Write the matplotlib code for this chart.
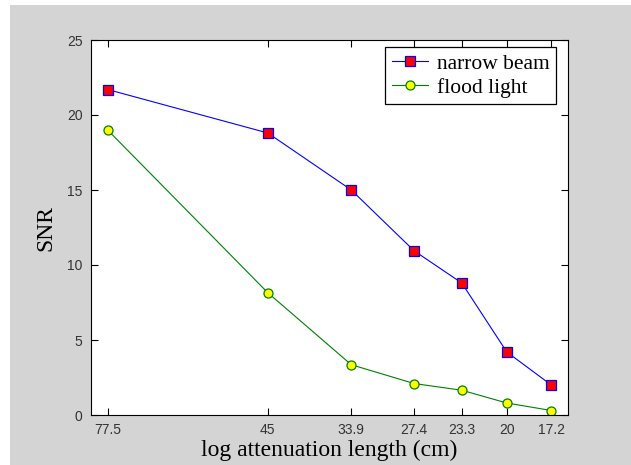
import matplotlib
matplotlib.use("Agg")
import matplotlib.pyplot as plt
from matplotlib.patches import Rectangle

# attenuation length (cm) and SNR
atten_len = [77.5, 45, 33.9, 27.4, 23.3, 20, 17.2]
tick_labels = ["77.5", "45", "33.9", "27.4", "23.3", "20", "17.2"]
snr_narrow = [21.7, 18.8, 15.0, 10.95, 8.8, 4.2, 2.0]
snr_flood = [19.0, 8.15, 3.35, 2.1, 1.65, 0.8, 0.3]

fig = plt.figure(figsize=(6.31, 4.65), dpi=100, facecolor="white")
# grey matlab-style figure background (leaves a white strip on top/left)
fig.patches.append(Rectangle((10 / 631, 0), 1, 1 - 5 / 465, transform=fig.transFigure,
                             facecolor="#d4d4d4", edgecolor="none", zorder=-10))

ax = fig.add_axes([91 / 631, (465 - 415) / 465, (568 - 91) / 631, (415 - 40) / 465])
ax.set_facecolor("white")

ax.plot(atten_len, snr_narrow, color="blue", lw=0.8, marker="s", markersize=6.5,
        markerfacecolor="red", markeredgecolor="blue", markeredgewidth=0.9,
        label="narrow beam")
ax.plot(atten_len, snr_flood, color="green", lw=0.8, marker="o", markersize=6.5,
        markerfacecolor="yellow", markeredgecolor="green", markeredgewidth=0.9,
        label="flood light")

ax.set_xscale("log")
ax.set_xlim(82, 16.25)
ax.set_ylim(0, 25)
ax.set_xticks(atten_len)
ax.set_xticklabels(tick_labels)
ax.minorticks_off()
ax.set_yticks([0, 5, 10, 15, 20, 25])

ax.tick_params(direction="in", top=True, right=True, length=5, width=0.8,
               labelsize=10, labelcolor="#333333", pad=6)
for lbl in ax.get_xticklabels() + ax.get_yticklabels():
    lbl.set_family("Liberation Sans")
for s in ax.spines.values():
    s.set_linewidth(0.8)

ax.set_xlabel("log attenuation length (cm)", family="Liberation Serif", fontsize=17, labelpad=2)
ax.set_ylabel("SNR", family="Liberation Serif", fontsize=17, labelpad=8)

leg = ax.legend(loc="upper right", prop={"family": "Liberation Serif", "size": 15.5},
                bbox_to_anchor=(556 / 631, (465 - 47) / 465), bbox_transform=fig.transFigure,
                fancybox=False, framealpha=1, edgecolor="black", borderaxespad=0,
                handlelength=1.7, borderpad=0.3, labelspacing=0.2, handletextpad=0.4)
leg.get_frame().set_linewidth(0.9)

fig.savefig("out.png", dpi=100, facecolor=fig.get_facecolor())
